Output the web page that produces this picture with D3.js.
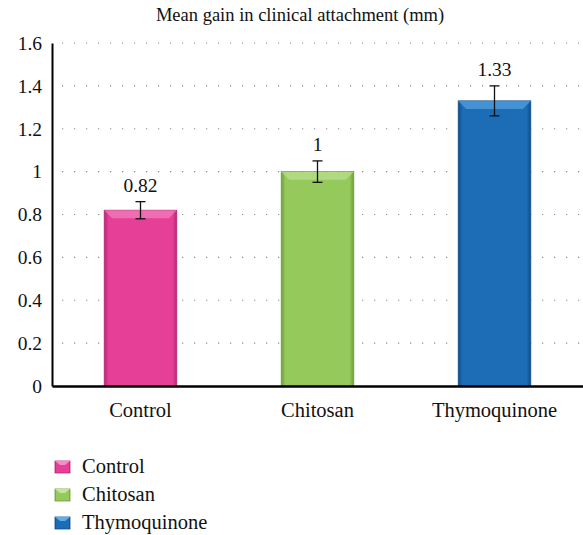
<!DOCTYPE html>
<html>
<head>
<meta charset="utf-8">
<script src="https://cdn.jsdelivr.net/npm/d3@7"></script>
<style>
  body { margin: 0; background: #fff; }
</style>
</head>
<body>
<svg id="chart" width="583" height="535"></svg>
<script>
// chart data
var categories = ["Control", "Chitosan", "Thymoquinone"];
var means = [0.82, 1, 1.33];
var errors = [0.04, 0.05, 0.07];
var valueLabels = ["0.82", "1", "1.33"];
var yTicks = [0, 0.2, 0.4, 0.6, 0.8, 1, 1.2, 1.4, 1.6];
var colors = ["#e63f98", "#95c95c", "#1c6db6"];
var darks = ["#b82677", "#6e9e3a", "#0f4e8a"];
var lights = ["#f58cc4", "#c4e59a", "#5eaee8"];

var FONT = "'Liberation Serif', serif";
var svg = d3.select("#chart");
var width = 583, height = 535;
var margin = {left: 52, right: 0, top: 43, bottom: 149};

var x = d3.scaleBand()
    .domain(categories)
    .range([margin.left, width - margin.right])
    .paddingInner(0.59)
    .paddingOuter(0.295);

var y = d3.scaleLinear()
    .domain([0, 1.6])
    .range([height - margin.bottom, margin.top]);

var defs = svg.append("defs");
categories.forEach(function(c, i){
    var g = defs.append("linearGradient")
        .attr("id", "grad" + i)
        .attr("x1", 0).attr("x2", 1).attr("y1", 0).attr("y2", 0);
    g.append("stop").attr("offset", "0%").attr("stop-color", darks[i]);
    g.append("stop").attr("offset", "6%").attr("stop-color", colors[i]);
    g.append("stop").attr("offset", "94%").attr("stop-color", colors[i]);
    g.append("stop").attr("offset", "100%").attr("stop-color", darks[i]);
});

// title
svg.append("text")
    .attr("x", 300)
    .attr("y", 21)
    .attr("text-anchor", "middle")
    .style("font-family", FONT)
    .style("font-size", "18.5px")
    .style("fill", "#111")
    .text("Mean gain in clinical attachment (mm)");

// dotted grid
svg.append("g")
    .selectAll("line")
    .data(yTicks.filter(function(d){ return d > 0; }))
    .join("line")
    .attr("x1", margin.left + 10)
    .attr("x2", width)
    .attr("y1", function(d){ return y(d); })
    .attr("y2", function(d){ return y(d); })
    .attr("stroke", "#888")
    .attr("stroke-width", 1.2)
    .attr("stroke-dasharray", "1.2 10.8");

// bars
var bars = svg.append("g")
    .selectAll("g")
    .data(categories)
    .join("g");

bars.append("rect")
    .attr("x", function(d){ return x(d); })
    .attr("y", function(d, i){ return y(means[i]); })
    .attr("width", x.bandwidth())
    .attr("height", function(d, i){ return y(0) - y(means[i]); })
    .attr("fill", function(d, i){ return "url(#grad" + i + ")"; })
    .attr("stroke", function(d, i){ return darks[i]; })
    .attr("stroke-width", 0.8);

// top bevel
bars.append("path")
    .attr("d", function(d, i){
        var x0 = x(d), x1 = x(d) + x.bandwidth(), t = y(means[i]);
        return "M" + x0 + "," + t + "L" + x1 + "," + t + "L" + (x1 - 8) + "," + (t + 8) + "L" + (x0 + 8) + "," + (t + 8) + "Z";
    })
    .attr("fill", function(d, i){ return lights[i]; })
    .attr("opacity", 0.6);

// error bars
var eb = svg.append("g")
    .selectAll("g")
    .data(categories)
    .join("g")
    .attr("stroke", "#111")
    .attr("stroke-width", 1.3);

eb.append("line")
    .attr("x1", function(d){ return x(d) + x.bandwidth() / 2; })
    .attr("x2", function(d){ return x(d) + x.bandwidth() / 2; })
    .attr("y1", function(d, i){ return y(means[i] + errors[i]); })
    .attr("y2", function(d, i){ return y(means[i] - errors[i]); });
[1, -1].forEach(function(s){
    eb.append("line")
        .attr("x1", function(d){ return x(d) + x.bandwidth() / 2 - 5; })
        .attr("x2", function(d){ return x(d) + x.bandwidth() / 2 + 5; })
        .attr("y1", function(d, i){ return y(means[i] + s * errors[i]); })
        .attr("y2", function(d, i){ return y(means[i] + s * errors[i]); });
});

// value labels
svg.append("g")
    .selectAll("text")
    .data(categories)
    .join("text")
    .attr("x", function(d){ return x(d) + x.bandwidth() / 2; })
    .attr("y", function(d, i){ return y(means[i] + errors[i]) - 10; })
    .attr("text-anchor", "middle")
    .style("font-family", FONT)
    .style("font-size", "19.5px")
    .style("fill", "#111")
    .text(function(d, i){ return valueLabels[i]; });

// axes
var yAxis = svg.append("g")
    .attr("transform", "translate(" + margin.left + ",0)")
    .call(d3.axisLeft(y).tickValues(yTicks).tickSize(0).tickPadding(10)
        .tickFormat(function(d){ return String(d); }));
yAxis.select(".domain").attr("stroke", "#000").attr("stroke-width", 2);
yAxis.selectAll("text")
    .style("font-family", FONT)
    .style("font-size", "19.5px")
    .style("fill", "#111");

var xAxis = svg.append("g")
    .attr("transform", "translate(0," + y(0) + ")")
    .call(d3.axisBottom(x).tickSize(0).tickPadding(16));
xAxis.select(".domain").attr("stroke", "#000").attr("stroke-width", 2.5);
xAxis.selectAll("text")
    .style("font-family", FONT)
    .style("font-size", "20.5px")
    .style("fill", "#111");

// legend
var legend = svg.append("g")
    .selectAll("g")
    .data(categories)
    .join("g")
    .attr("transform", function(d, i){ return "translate(55," + (461 + i * 28) + ")"; });

legend.append("rect")
    .attr("width", 15)
    .attr("height", 12)
    .attr("fill", function(d, i){ return "url(#grad" + i + ")"; })
    .attr("stroke", function(d, i){ return darks[i]; })
    .attr("stroke-width", 0.8);
legend.append("path")
    .attr("d", "M0,0L15,0L10,4L5,4Z")
    .attr("fill", function(d, i){ return lights[i]; });
legend.append("text")
    .attr("x", 27)
    .attr("y", 12)
    .style("font-family", FONT)
    .style("font-size", "20.5px")
    .style("fill", "#111")
    .text(function(d){ return d; });
</script>
</body>
</html>
